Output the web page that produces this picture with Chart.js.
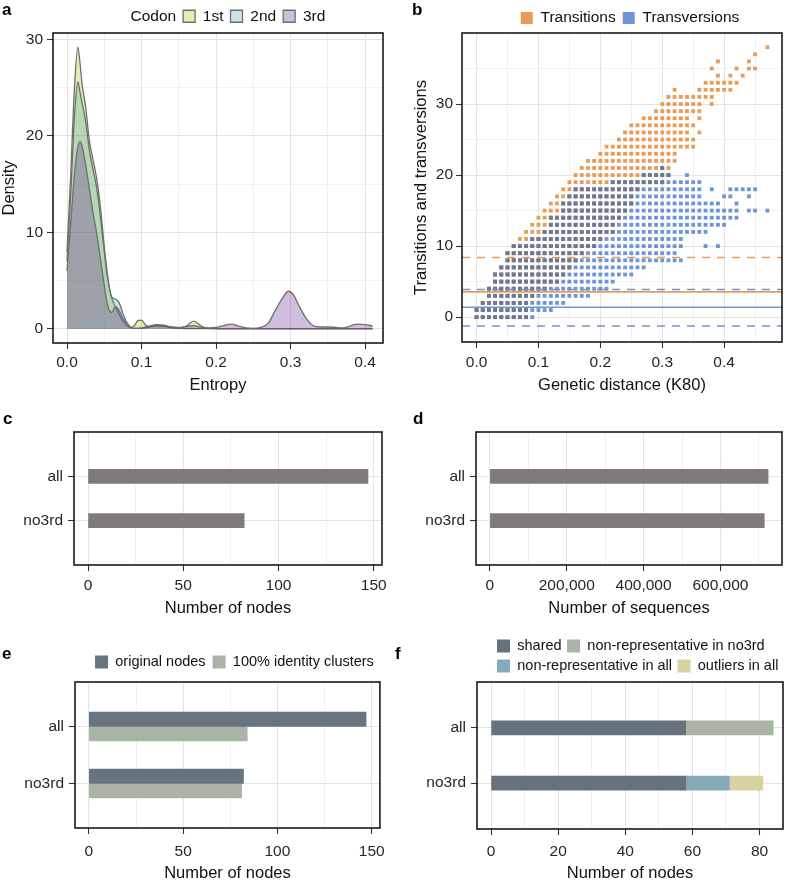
<!DOCTYPE html>
<html><head><meta charset="utf-8">
<script src="https://cdn.jsdelivr.net/npm/chart.js@4.4.0/dist/chart.umd.min.js"></script>
<style>
html,body{margin:0;padding:0;background:#fff;}
body{width:786px;height:883px;position:relative;overflow:hidden;font-family:'Liberation Sans',Arial,Helvetica,sans-serif;}
canvas{position:absolute;}
.lab{position:absolute;font-weight:bold;font-size:17px;line-height:17px;color:#000;}
</style></head>
<body>
<canvas id="cA" width="393" height="400" style="left:0;top:0;width:393px;height:400px"></canvas>
<canvas id="cB" width="393" height="400" style="left:393px;top:0;width:393px;height:400px"></canvas>
<canvas id="cC" width="393" height="225" style="left:0;top:400px;width:393px;height:225px"></canvas>
<canvas id="cD" width="393" height="225" style="left:393px;top:400px;width:393px;height:225px"></canvas>
<canvas id="cE" width="393" height="253" style="left:0;top:630px;width:393px;height:253px"></canvas>
<canvas id="cF" width="393" height="253" style="left:393px;top:630px;width:393px;height:253px"></canvas>
<div class="lab" style="left:2px;top:1px">a</div>
<div class="lab" style="left:412px;top:1px">b</div>
<div class="lab" style="left:3px;top:410px">c</div>
<div class="lab" style="left:413px;top:410px">d</div>
<div class="lab" style="left:2px;top:645px">e</div>
<div class="lab" style="left:395px;top:645px">f</div>
<script>
// ---------- Panel a: entropy densities per codon position ----------
const densX   = [0,0.005,0.01,0.0145,0.0175,0.02,0.025,0.03,0.035,0.04,0.045,0.05,0.055,0.06,0.065,0.07,0.075,0.08,0.085,0.09,0.095,0.1,0.105,0.11,0.12,0.13,0.14,0.15,0.16,0.17,0.18,0.19,0.2,0.21,0.22,0.23,0.24,0.25,0.26,0.27,0.28,0.29,0.297,0.305,0.31,0.32,0.33,0.34,0.35,0.36,0.37,0.38,0.39,0.4,0.41];
const dens1st = [8,16,25,29.2,27.5,25.5,23,19.5,17.5,15.5,12.5,8.5,5.2,3.2,2.3,1.5,0.8,0.35,0.15,0.3,0.85,0.9,0.45,0.2,0.35,0.3,0.15,0.1,0.3,0.8,0.3,0.05,0.02,0.01,0.01,0.01,0.01,0.01,0.01,0.01,0.01,0.01,0.01,0.01,0.01,0.01,0.01,0.01,0.01,0.01,0.01,0.01,0.01,0.01,0.01];
const dens2nd = [7,14,22,25.6,24.5,23.5,21.5,18.5,16.5,14.5,11.5,8,5,3.3,3.1,2.7,1.6,0.7,0.2,0.05,0.05,0.05,0.1,0.2,0.35,0.3,0.1,0.05,0.03,0.02,0.02,0.02,0.02,0.02,0.02,0.02,0.02,0.02,0.02,0.02,0.02,0.02,0.02,0.02,0.02,0.02,0.02,0.02,0.02,0.02,0.02,0.02,0.02,0.02,0.02];
const dens3rd = [6,11,16,18.8,19.4,19,17,14.5,12,9.8,7.2,4.5,2.3,1.7,2.3,1.9,1.1,0.45,0.15,0.05,0.05,0.1,0.2,0.3,0.45,0.4,0.2,0.15,0.25,0.35,0.15,0.1,0.15,0.35,0.5,0.3,0.1,0.05,0.15,0.6,2.0,3.3,3.9,3.4,2.6,1.2,0.35,0.2,0.2,0.15,0.1,0.3,0.5,0.45,0.3];
const codonLabels = ['1st','2nd','3rd'];
const aXMajor = [0,0.1,0.2,0.3,0.4], aXMinor = [0.05,0.15,0.25,0.35];
const aYMajor = [0,10,20,30], aYMinor = [5,15,25];

// ---------- Panel b: transitions / transversions vs K80 distance ----------
// runs: [count, first distance (x0.01), last distance (x0.01)]
const tsRuns = [[0,0,8],[1,0,8],[2,1,8],[3,2,9],[4,2,11],[5,3,13],[6,3,14],[7,4,15],[8,5,16],[9,5,17],[10,6,19],[11,7,20],[12,8,22],[13,9,22],[14,10,23],[15,11,24],[16,12,25],[17,13,25],[18,14,26],[19,15,30],[20,16,31],[21,17,31],[22,18,32],[23,20,32],[24,21,35],[25,23,35],[26,24,34],[26,36,36],[27,25,35],[28,27,34],[28,36,36],[29,29,36],[30,30,36],[30,38,38],[31,31,38],[32,32,32],[32,36,41],[33,37,42],[34,39,39],[34,41,41],[34,43,43],[35,38,38],[35,42,42],[35,44,45],[36,39,39],[36,44,44],[37,45,45],[38,47,47]];
const tvRuns = [[0,0,9],[1,0,12],[2,1,14],[3,2,18],[4,2,21],[5,3,22],[6,3,25],[7,4,27],[8,5,33],[9,5,32],[10,6,33],[10,37,37],[10,39,39],[11,9,33],[12,11,37],[13,12,40],[14,12,42],[15,14,42],[15,44,44],[15,45,45],[15,47,47],[16,14,39],[16,42,42],[17,15,36],[17,40,41],[17,44,44],[18,16,36],[18,38,38],[18,41,45],[19,22,36],[20,27,31],[20,34,34],[21,30,30]];
const tsMean = 3.55, tsUpper = 8.4;
const tvMean = 1.4, tvUpper = 3.9, tvLower = -1.25;
const bXMajor = [0,0.1,0.2,0.3,0.4], bXMinor = [0.05,0.15,0.25,0.35,0.45];
const bYMajor = [0,10,20,30], bYMinor = [5,15,25,35];

// ---------- Panels c-f ----------
const barCategories = ['all','no3rd'];
const nodeCounts = [147,82];
const sequenceCounts = [724000,714000];
const originalNodes = [147,82];
const identityClusters = [84,81];
const sharedNodes = [58,58];
const nonRepNo3rd = [26,0];
const nonRepAll = [0,13];
const outliersAll = [0,10];
const nodesMajor = [0,50,100,150], nodesMinor = [25,75,125];
const seqMajor = [0,200000,400000,600000], seqMinor = [100000,300000,500000,700000];
const fMajor = [0,20,40,60,80], fMinor = [10,30,50,70];

// ---------- common setup ----------
Chart.defaults.font.family = "'Liberation Sans', Arial, Helvetica, sans-serif";
Chart.defaults.color = '#111';

const framePlugin = { id: 'frame', afterDatasetsDraw(chart) {
  const a = chart.chartArea, c = chart.ctx;
  c.save(); c.strokeStyle = '#1a1a1a'; c.lineWidth = 1.6;
  c.strokeRect(a.left, a.top, a.right - a.left, a.bottom - a.top); c.restore();
}};
const legendShift = { id: 'legendShift', afterLayout(chart, args, opts) {
  const lg = chart.legend; if (!lg || !opts) return;
  if (opts.dx) { lg.left += opts.dx; lg.right += opts.dx; }
  if (opts.dy) { lg.top += opts.dy; lg.bottom += opts.dy; }
}};
Chart.register(framePlugin, legendShift);

function makeAxis(o) {
  const major = o.major, minor = o.minor || [];
  const all = major.concat(minor).sort((p, q) => p - q);
  const isMaj = v => major.some(m => Math.abs(m - v) < 1e-9);
  const fmt = o.fmt || (v => String(v));
  const ax = {
    type: 'linear', position: o.position, min: o.min, max: o.max, offset: false,
    afterBuildTicks: s => { s.ticks = all.map(v => ({ value: v })); },
    afterFit: s => { if (o.position === 'bottom') s.height = o.size; else s.width = o.size; },
    grid: {
      offset: false,
      color: c => (c.tick && isMaj(c.tick.value)) ? '#e3e3e3' : '#f1f1f1',
      lineWidth: 1,
      tickColor: c => (c.tick && isMaj(c.tick.value)) ? '#333' : 'rgba(0,0,0,0)',
      tickLength: 6, tickWidth: 1.1
    },
    border: { display: false },
    ticks: { autoSkip: false, maxRotation: 0, minRotation: 0, padding: o.pad, color: '#262626',
      font: { size: 15.5 }, callback: v => isMaj(v) ? fmt(v) : '' },
    title: o.title ? { display: true, text: o.title, color: '#111', font: { size: 16.5 }, padding: o.titlePad }
                   : { display: false }
  };
  if (o.stacked !== undefined) ax.stacked = o.stacked;
  return ax;
}
const baseOpts = { responsive: false, animation: false, devicePixelRatio: 1, events: [] };

// ---------- chart a ----------
const aFill = ['rgba(172,188,5,0.3)','rgba(62,168,178,0.3)','rgba(102,35,138,0.3)'];
const aSeries = [dens1st, dens2nd, dens3rd];
new Chart(document.getElementById('cA'), {
  type: 'line',
  data: { datasets: aSeries.map((s, k) => ({
    label: codonLabels[k], order: 3 - k,
    data: densX.map((x, i) => ({ x: x, y: s[i] })),
    backgroundColor: aFill[k], borderColor: '#6f6f6f', borderWidth: 1.3,
    fill: 'origin', pointRadius: 0, cubicInterpolationMode: 'monotone'
  })) },
  options: Object.assign({}, baseOpts, {
    layout: { padding: { left: 0, top: 0.5, right: 10, bottom: 0 } },
    scales: {
      x: makeAxis({ position: 'bottom', min: -0.0188, max: 0.424, major: aXMajor, minor: aXMinor,
        fmt: v => v.toFixed(1), size: 57, pad: 4, title: 'Entropy', titlePad: { top: 0, bottom: 5 } }),
      y: makeAxis({ position: 'left', min: -1.46, max: 30.66, major: aYMajor, minor: aYMinor,
        size: 53, pad: 4, title: 'Density', titlePad: { top: 0, bottom: 0 } })
    },
    plugins: {
      tooltip: { enabled: false },
      legendShift: { dx: 0, dy: 1 },
      legend: { position: 'top', fullSize: false, labels: {
        boxWidth: 12, boxHeight: 12, padding: 7, color: '#111', font: { size: 15.5 },
        generateLabels: chart => {
          const items = Chart.defaults.plugins.legend.labels.generateLabels(chart)
            .sort((p, q) => p.datasetIndex - q.datasetIndex);
          return [{ text: 'Codon', fillStyle: 'rgba(0,0,0,0)', strokeStyle: 'rgba(0,0,0,0)',
            lineWidth: 0, hidden: false, datasetIndex: -1, fontColor: '#111' }].concat(items);
        } } }
    }
  })
});

// ---------- chart b ----------
function expandRuns(runs) {
  const pts = [];
  runs.forEach(r => { for (let k = r[1]; k <= r[2]; k++) pts.push({ x: k / 100, y: r[0] }); });
  return pts;
}
const tsPts = expandRuns(tsRuns), tvPts = expandRuns(tvRuns);
const tvKeys = new Set(tvPts.map(p => p.x.toFixed(2) + '_' + p.y));
const bothPts = tsPts.filter(p => tvKeys.has(p.x.toFixed(2) + '_' + p.y));
const bXMin = -0.0235, bXMax = 0.4935;
const ORANGE = '#e79c57', BLUE = '#6e95d4', OVER = '#6f788e';
function hLine(v, color, dashed, ord) {
  return { type: 'line', label: 'ref', order: ord, data: [{ x: bXMin, y: v }, { x: bXMax, y: v }],
    borderColor: color, borderWidth: 1.6, borderDash: dashed ? [8, 7] : [], pointRadius: 0, fill: false, showLine: true };
}
const ptStyle = { pointStyle: 'rect', pointRadius: 2.7, pointBorderWidth: 0, borderWidth: 1 };
new Chart(document.getElementById('cB'), {
  type: 'scatter',
  data: { datasets: [
    Object.assign({ label: 'Transitions', data: tsPts, backgroundColor: ORANGE, borderColor: '#b8732f', order: 6 }, ptStyle),
    Object.assign({ label: 'Transversions', data: tvPts, backgroundColor: BLUE, borderColor: '#46689e', order: 5 }, ptStyle),
    Object.assign({ label: 'both', data: bothPts, backgroundColor: OVER, borderColor: OVER, order: 4 }, ptStyle),
    hLine(tsUpper, ORANGE, true, 2), hLine(tsMean, ORANGE, false, 2),
    hLine(tvUpper, BLUE, true, 1), hLine(tvMean, BLUE, false, 1), hLine(tvLower, BLUE, true, 1)
  ] },
  options: Object.assign({}, baseOpts, {
    layout: { padding: { left: 0, top: 0.5, right: 3, bottom: 0 } },
    scales: {
      x: makeAxis({ position: 'bottom', min: bXMin, max: bXMax, major: bXMajor, minor: bXMinor,
        fmt: v => v.toFixed(1), size: 58, pad: 5, title: 'Genetic distance (K80)', titlePad: { top: 0, bottom: 5 } }),
      y: makeAxis({ position: 'left', min: -3.5, max: 40, major: bYMajor, minor: bYMinor,
        size: 69, pad: 3, title: 'Transitions and transversions', titlePad: { top: 19, bottom: 0 } })
    },
    plugins: {
      tooltip: { enabled: false },
      legendShift: { dx: 8, dy: 2.75 },
      legend: { position: 'top', fullSize: false, labels: {
        boxWidth: 12, boxHeight: 12, padding: 7, color: '#111', font: { size: 15.5 },
        filter: it => it.datasetIndex < 2, sort: (p, q) => p.datasetIndex - q.datasetIndex } }
    }
  })
});

// ---------- bar charts c-f ----------
const catPos = barCategories.map((c, i) => barCategories.length - i);
function catAxis(min, max, width, stacked) {
  return makeAxis({ position: 'left', min: min, max: max, major: catPos.slice().sort(), size: width, pad: 5,
    stacked: stacked, fmt: v => barCategories[barCategories.length - v] });
}
function barData(vals) { return vals.map((v, i) => ({ x: v, y: catPos[i] })); }

new Chart(document.getElementById('cC'), {
  type: 'bar',
  data: { datasets: [{ label: 'nodes', data: barData(nodeCounts), backgroundColor: '#807b7b', barThickness: 14 }] },
  options: Object.assign({}, baseOpts, { indexAxis: 'y',
    layout: { padding: { left: 0, top: 32, right: 11, bottom: 0 } },
    scales: {
      x: makeAxis({ position: 'bottom', min: -7.35, max: 154.35, major: nodesMajor, minor: nodesMinor,
        size: 60, pad: 5, title: 'Number of nodes', titlePad: { top: 0, bottom: 7 } }),
      y: catAxis(0, 3, 74)
    },
    plugins: { tooltip: { enabled: false }, legend: { display: false } }
  })
});

new Chart(document.getElementById('cD'), {
  type: 'bar',
  data: { datasets: [{ label: 'sequences', data: barData(sequenceCounts), backgroundColor: '#807b7b', barThickness: 14 }] },
  options: Object.assign({}, baseOpts, { indexAxis: 'y',
    layout: { padding: { left: 0, top: 32, right: 4, bottom: 0 } },
    scales: {
      x: makeAxis({ position: 'bottom', min: -36200, max: 760200, major: seqMajor, minor: seqMinor,
        fmt: v => v.toLocaleString('en-US'), size: 60, pad: 5, title: 'Number of sequences', titlePad: { top: 0, bottom: 7 } }),
      y: catAxis(0, 3, 83)
    },
    plugins: { tooltip: { enabled: false }, legend: { display: false } }
  })
});

new Chart(document.getElementById('cE'), {
  type: 'bar',
  data: { datasets: [
    { label: 'original nodes', data: barData(originalNodes), backgroundColor: '#67737f', barThickness: 14.5 },
    { label: '100% identity clusters', data: barData(identityClusters), backgroundColor: '#a9b4a6', barThickness: 14.5 }
  ] },
  options: Object.assign({}, baseOpts, { indexAxis: 'y',
    layout: { padding: { left: 0, top: 20.5, right: 10, bottom: 0 } },
    scales: {
      x: makeAxis({ position: 'bottom', min: -7.35, max: 154.35, major: nodesMajor, minor: nodesMinor,
        size: 55, pad: 8, title: 'Number of nodes', titlePad: { top: 0, bottom: 0 } }),
      y: catAxis(0.22, 2.78, 75)
    },
    plugins: { tooltip: { enabled: false }, legendShift: { dx: 7, dy: -2.75 },
      legend: { position: 'top', fullSize: false, labels: { boxWidth: 13, boxHeight: 13, padding: 7, color: '#111', font: { size: 14.5 } } } }
  })
});

new Chart(document.getElementById('cF'), {
  type: 'bar',
  data: { datasets: [
    { label: 'shared', data: barData(sharedNodes), backgroundColor: '#66727e', barThickness: 14 },
    { label: 'non-representative in no3rd', data: barData(nonRepNo3rd), backgroundColor: '#a9b4a6', barThickness: 14 },
    { label: 'non-representative in all', data: barData(nonRepAll), backgroundColor: '#86aaba', barThickness: 14 },
    { label: 'outliers in all', data: barData(outliersAll), backgroundColor: '#d8d1a2', barThickness: 14 }
  ] },
  options: Object.assign({}, baseOpts, { indexAxis: 'y',
    layout: { padding: { left: 0, top: 2, right: 3, bottom: 0 } },
    scales: {
      x: makeAxis({ position: 'bottom', min: -4.2, max: 87, major: fMajor, minor: fMinor, stacked: true,
        size: 54, pad: 7, title: 'Number of nodes', titlePad: { top: 0, bottom: 0 } }),
      y: catAxis(0.17, 2.83, 84, true)
    },
    plugins: { tooltip: { enabled: false }, legendShift: { dx: 14.5, dy: 1.25 },
      legend: { position: 'top', fullSize: false, align: 'start', labels: { boxWidth: 13, boxHeight: 13, padding: 5.5, color: '#111', font: { size: 14.5 } } } }
  })
});
</script>
</body></html>
